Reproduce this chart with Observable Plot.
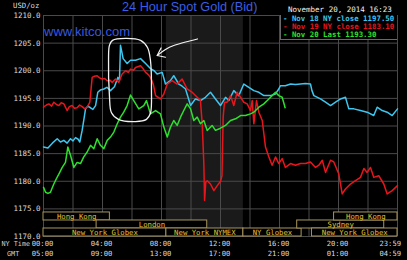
<!DOCTYPE html>
<html><head><meta charset="utf-8">
<script src="https://cdn.jsdelivr.net/npm/d3@7"></script>
<script src="https://cdn.jsdelivr.net/npm/@observablehq/plot@0.6"></script>
<style>
body{margin:0;background:#000;}
#wrap{position:relative;width:407px;height:260px;overflow:hidden;background:#000;}
.ov{position:absolute;white-space:pre;}
.mono{font-family:"DejaVu Sans Mono",monospace;}
</style></head><body>
<div id="wrap"></div>
<script>
// ---- data (hours after 00:00 NY time, price USD/oz) ----
const nov18Hours = [0,0.3,0.6,0.93,1.15,1.38,1.6,1.83,2.0,2.17,2.35,2.46,2.62,2.75,2.85,3.0,3.19,3.35,3.53,3.68,3.85,4.09,4.3,4.54,4.81,5.04,5.15,5.22,5.4,5.67,5.9,6.24,6.58,6.92,7.25,7.5,7.7,8.05,8.27,8.6,8.83,9.17,9.4,9.63,9.97,10.3,10.64,10.98,11.32,11.66,12.0,12.34,12.56,12.9,13.24,13.58,13.92,14.26,14.6,14.94,15.39,15.73,15.95,16.07,16.4,16.75,17.08,17.42,17.76,18.1,18.2,18.33,18.78,19.12,19.46,19.8,20.14,20.47,20.7,21.04,21.49,21.94,22.39,22.62,22.96,23.3,23.64,24];
const nov18Prices = [1186.2,1186.0,1186.9,1187.7,1187.1,1187.4,1186.9,1187.7,1187.3,1187.9,1187.6,1187.1,1189.2,1191.4,1193.1,1193.6,1193.3,1193.0,1193.7,1196.1,1196.5,1196.7,1197.0,1196.4,1197.1,1198.8,1198.3,1204.6,1202.2,1201.3,1201.9,1201.9,1202.2,1201.3,1200.4,1200.0,1199.4,1199.7,1197.6,1198.2,1199.1,1197.6,1197.2,1196.7,1193.7,1194.9,1194.6,1195.2,1196.1,1194.9,1193.7,1195.2,1194.6,1196.4,1195.5,1197.6,1197.0,1196.4,1196.1,1195.5,1195.5,1195.8,1196.7,1197.3,1197.3,1197.6,1197.5,1197.6,1197.7,1197.6,1196.4,1195.5,1194.9,1194.3,1193.7,1194.3,1194.9,1195.2,1193.1,1193.1,1192.8,1192.5,1191.9,1193.4,1192.8,1192.5,1191.9,1193.1];

const nov19Hours = [0,0.2,0.36,0.55,0.7,0.88,1.04,1.2,1.38,1.6,1.75,1.94,2.1,2.28,2.45,2.62,2.8,2.96,3.14,3.3,3.45,3.64,3.8,3.98,4.15,4.32,4.5,4.66,4.88,5.1,5.33,5.56,5.75,5.9,6.1,6.24,6.58,6.75,6.92,7.1,7.25,7.45,7.6,7.93,8.16,8.39,8.72,9.06,9.4,9.74,10.08,10.42,10.64,10.76,10.87,10.92,11.0,11.1,11.32,11.55,11.78,12.0,12.1,12.18,12.27,12.45,12.68,12.9,13.13,13.36,13.58,13.81,14.03,14.15,14.26,14.44,14.6,14.83,15.05,15.28,15.5,15.73,15.95,16.18,16.4,16.75,17.08,17.42,17.76,18.1,18.44,18.67,18.9,19.12,19.46,19.68,20.02,20.25,20.47,20.81,21.15,21.49,21.72,21.94,22.17,22.39,22.73,23.07,23.3,23.64,24];
const nov19Prices = [1193.4,1193.8,1194.0,1193.6,1194.3,1193.9,1193.7,1194.2,1194.0,1192.8,1193.5,1193.7,1193.2,1193.3,1193.8,1193.5,1193.1,1193.4,1194.3,1198.8,1199.0,1199.1,1198.7,1198.5,1198.6,1198.2,1198.3,1197.9,1198.5,1197.9,1199.4,1200.0,1199.7,1200.3,1200.1,1200.6,1200.9,1200.4,1199.7,1199.3,1198.8,1197.5,1195.5,1194.9,1195.8,1197.6,1198.2,1197.6,1198.5,1196.7,1196.1,1195.2,1194.6,1190.4,1183.2,1176.5,1179.8,1180.1,1179.5,1178.3,1179.2,1180.0,1181.0,1191.6,1194.3,1194.3,1195.5,1193.7,1196.1,1195.2,1194.3,1194.0,1192.8,1194.6,1190.4,1194.6,1192.5,1191.0,1186.2,1184.4,1182.9,1184.4,1183.2,1184.1,1182.5,1183.2,1182.9,1183.2,1183.2,1183.5,1182.5,1182.9,1183.8,1181.6,1183.8,1183.5,1181.3,1177.7,1178.6,1179.5,1180.1,1180.7,1182.3,1181.6,1182.5,1180.7,1181.0,1179.5,1177.7,1178.3,1179.2];

const nov20Hours = [0,0.14,0.3,0.47,0.7,0.88,1.04,1.27,1.49,1.65,1.83,2.06,2.28,2.51,2.73,2.96,3.19,3.41,3.64,3.86,4.09,4.32,4.54,4.77,5.0,5.22,5.44,5.67,5.9,6.12,6.46,6.8,6.98,7.25,7.6,7.93,8.16,8.39,8.61,8.83,9.06,9.29,9.51,9.74,9.97,10.19,10.42,10.64,10.87,11.1,11.43,11.66,12.0,12.34,12.68,13.02,13.36,13.69,14.03,14.26,14.6,14.94,15.28,15.5,15.73,15.95,16.18,16.34,16.38];
const nov20Prices = [1178.9,1178.0,1177.8,1178.0,1179.5,1180.5,1181.3,1182.5,1183.4,1186.2,1184.7,1182.5,1183.4,1183.2,1184.4,1185.3,1186.5,1185.9,1187.7,1186.5,1185.9,1187.4,1188.0,1188.9,1190.4,1191.6,1192.5,1193.7,1195.6,1194.6,1193.1,1193.7,1194.6,1192.2,1192.8,1192.2,1189.8,1188.0,1189.8,1191.0,1190.1,1191.6,1192.8,1194.0,1193.1,1191.0,1191.6,1190.4,1191.0,1189.2,1190.1,1189.2,1189.6,1190.1,1191.0,1191.3,1191.9,1191.9,1192.2,1192.5,1193.4,1194.0,1194.9,1195.5,1196.1,1195.5,1195.2,1193.7,1193.3];

const seriesNames = ["Nov 18 NY close 1197.50","Nov 19 NY close 1183.10","Nov 20 Last 1193.30"];

// trading sessions (hours NY time) and row (0 top,1 middle,2 bottom)
const sessionNames  = ["Hong Kong","London","New York Globex","New York NYMEX","NY Globex","Sydney","New York Globex","Hong Kong"];
const sessionStarts = [0,3.6,0,8.33,13.55,17.2,18.2,19.7];
const sessionEnds   = [4.5,11.1,8.33,13.55,17.5,23.1,24,24];
const sessionRows   = [0,1,2,2,2,1,2,0];
const nymexOpen = 8.33, nymexClose = 13.55;

const yTicks = [1170,1175,1180,1185,1190,1195,1200,1205,1210];
const xTicks = [0,4,8,12,16,20,23.983];
const nyLabels  = ["00:00","04:00","08:00","12:00","16:00","20:00","23:59"];
const gmtLabels = ["05:00","09:00","13:00","17:00","21:00","01:00","04:59"];

// hand-drawn annotation (hours, price)
const circleHours  = [4.68,5.56,6.58,7.05,7.25,7.32,7.25,6.98,6.24,5.08,4.61,4.47,4.41,4.47];
const circlePrices = [1205.5,1205.85,1205.5,1204.2,1201.9,1196.4,1192.3,1191.2,1190.8,1191.2,1192.4,1195.5,1201.9,1204.6];
const arrowHours  = [7.71,8.27,8.83,9.63,10.44];
const arrowPrices = [1202.76,1203.85,1204.57,1205.2,1205.75];
const barbHours  = [7.97,7.71,8.27];
const barbPrices = [1204.12,1202.76,1202.45];

// ---- build ----
const colors = ["#3cc6f0","#e8161c","#2ee02e"];
const mk = (hs, ps) => hs.map((h,i)=>({h, p: ps[i]}));
const s18 = mk(nov18Hours, nov18Prices);
const s19 = mk(nov19Hours, nov19Prices);
const s20 = mk(nov20Hours, nov20Prices);
const sessions = sessionNames.map((n,i)=>({name:n, start:sessionStarts[i], end:sessionEnds[i], row:sessionRows[i]}));
const rowH = 1.45;
const rowTop = r => 1170 + (3 - r) * rowH;
const rowBot = r => 1170 + (2 - r) * rowH;
const circle = mk(circleHours, circlePrices);
const arrow = mk(arrowHours, arrowPrices);
const barb = mk(barbHours, barbPrices);
const ticks = xTicks.map((t,i)=>({t, ny: nyLabels[i], gmt: gmtLabels[i]}));
const ticksMain = ticks.slice(0, -1), ticksLast = ticks.slice(-1);
const tickText = (data, key, dy, dx) => Plot.text(data, {x: "t", frameAnchor: "bottom", lineAnchor: "middle", dy, dx, text: key, fill: "#dcdcdc", fontSize: 7.2});

const plot = Plot.plot({
  width: 407, height: 260,
  marginTop: 15, marginRight: 10, marginBottom: 24, marginLeft: 43,
  x: {domain: [0, 24], axis: null},
  y: {domain: [1170, 1210], axis: null},
  style: {background: "#000", color: "#ddd", fontFamily: "DejaVu Sans Mono", fontSize: "7.5px"},
  marks: [
    Plot.rect([{a: nymexOpen, b: nymexClose}], {x1: "a", x2: "b", y1: 1170, y2: 1210, fill: "#1a1a1a"}),
    Plot.gridY(yTicks, {stroke: "#4a4a4a", strokeOpacity: 1}),
    Plot.gridX(d3.range(0, 25, 2), {stroke: "#4a4a4a", strokeOpacity: 1}),
    Plot.line(s18, {x: "h", y: "p", stroke: colors[0], strokeWidth: 1.5}),
    Plot.line(s19, {x: "h", y: "p", stroke: colors[1], strokeWidth: 1.5}),
    Plot.line(s20, {x: "h", y: "p", stroke: colors[2], strokeWidth: 1.5}),
    Plot.line(circle, {x: "h", y: "p", stroke: "#f2f2f2", strokeWidth: 1.3, curve: "catmull-rom-closed"}),
    Plot.line(arrow, {x: "h", y: "p", stroke: "#f2f2f2", strokeWidth: 1.2, curve: "natural"}),
    Plot.line(barb, {x: "h", y: "p", stroke: "#f2f2f2", strokeWidth: 1.2}),
    Plot.rect(sessions, {x1: "start", x2: "end", y1: d => rowBot(d.row), y2: d => rowTop(d.row), fill: "#000", stroke: "#a8965e", strokeWidth: 1}),
    Plot.text(sessions, {x: d => (d.start + d.end) / 2, y: d => (rowTop(d.row) + rowBot(d.row)) / 2, text: "name", fill: "#e6c035", fontSize: 7.3}),
    Plot.axisY(yTicks, {tickSize: 0, tickPadding: 3, tickFormat: d => d.toFixed(1), label: null, fill: "#dcdcdc", fontSize: 7.5}),
    tickText(ticksMain, "ny", 7.5, -1),
    tickText(ticksMain, "gmt", 17.5, -1),
    tickText(ticksLast, "ny", 7.5, -7),
    tickText(ticksLast, "gmt", 17.5, -7)
  ]
});
const wrap = document.getElementById("wrap");
wrap.appendChild(plot);

function ov(text, css, cls="ov mono") {
  const d = document.createElement("div");
  d.className = cls;
  d.textContent = text;
  d.style.cssText = css;
  wrap.appendChild(d);
  return d;
}
ov("USD/oz", "left:13px;top:1.5px;font-size:7.3px;line-height:7.3px;color:#dcdcdc;");
ov("24 Hour Spot Gold (Bid)", "left:122px;top:1px;font-size:12.7px;line-height:12.7px;color:#3a5ee6;font-family:'Liberation Sans',Arial,sans-serif;");
ov("www.kitco.com", "left:44px;top:25px;font-size:13px;line-height:13px;color:#3558e0;font-family:'Liberation Sans',Arial,sans-serif;");
ov("November 20, 2014 16:23", "left:288px;top:6.3px;font-size:7.5px;line-height:7.5px;color:#f0f0f0;");
ov("", "left:280px;top:15px;width:117px;height:25px;border:1px solid #6a6a6a;border-right:none;border-top:none;background:#000;box-sizing:border-box;");
const legendTops = [14.8, 22.6, 30.6];
seriesNames.forEach((n,i)=>{
  ov("- " + n, `left:283px;top:${legendTops[i]}px;font-size:7.4px;line-height:7.4px;color:${colors[i]};font-weight:bold;`);
});
ov("NY Time", "left:1.5px;top:240.5px;font-size:6.8px;line-height:6.8px;color:#cfcfcf;");
ov("GMT", "left:7px;top:250.5px;font-size:6.8px;line-height:6.8px;color:#cfcfcf;");
</script>
</body></html>
